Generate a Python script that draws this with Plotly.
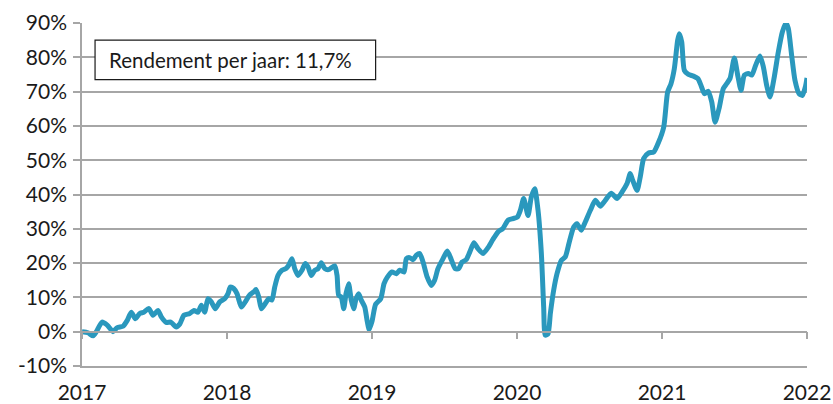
import plotly.graph_objects as go

# time in years since start of 2017, cumulative return in %
t = [0.000, 0.041, 0.076, 0.099, 0.138, 0.174, 0.214, 0.243, 0.283, 0.312, 0.340, 0.368, 0.398, 0.428,
     0.460, 0.490, 0.524, 0.547, 0.581, 0.612, 0.650, 0.674, 0.703, 0.743, 0.772, 0.800, 0.823, 0.846,
     0.869, 0.892, 0.919, 0.950, 0.984, 1.007, 1.023, 1.046, 1.069, 1.099, 1.126, 1.154, 1.184, 1.200,
     1.219, 1.237, 1.264, 1.288, 1.310, 1.329, 1.352, 1.379, 1.407, 1.426, 1.448, 1.467, 1.490, 1.517,
     1.540, 1.559, 1.581, 1.605, 1.628, 1.650, 1.674, 1.701, 1.743, 1.759, 1.770, 1.788, 1.805, 1.821,
     1.839, 1.857, 1.874, 1.890, 1.908, 1.926, 1.950, 1.966, 1.981, 2.000, 2.025, 2.060, 2.083, 2.106,
     2.138, 2.168, 2.191, 2.221, 2.237, 2.260, 2.283, 2.306, 2.329, 2.352, 2.381, 2.409, 2.432, 2.455,
     2.490, 2.519, 2.547, 2.574, 2.598, 2.621, 2.650, 2.674, 2.703, 2.731, 2.766, 2.800, 2.834, 2.869,
     2.903, 2.938, 2.972, 3.002, 3.023, 3.046, 3.076, 3.099, 3.122, 3.145, 3.168, 3.184, 3.195, 3.214,
     3.230, 3.253, 3.276, 3.306, 3.333, 3.361, 3.391, 3.414, 3.443, 3.471, 3.506, 3.540, 3.574, 3.609,
     3.650, 3.690, 3.724, 3.759, 3.781, 3.798, 3.828, 3.850, 3.874, 3.908, 3.943, 3.977, 4.012, 4.039,
     4.062, 4.085, 4.108, 4.119, 4.136, 4.154, 4.182, 4.217, 4.247, 4.269, 4.293, 4.319, 4.343, 4.366,
     4.393, 4.423, 4.446, 4.469, 4.499, 4.522, 4.545, 4.568, 4.595, 4.619, 4.646, 4.676, 4.699, 4.722,
     4.745, 4.774, 4.802, 4.830, 4.855, 4.871, 4.894, 4.917, 4.945, 4.968, 4.991, 5.000]
rendement = [0.0, -0.3, -1.2, 0.0, 2.8, 1.9, 0.0, 1.2, 1.6, 3.3, 5.7, 3.8, 5.3, 5.7,
             6.8, 4.8, 6.2, 4.3, 2.7, 2.8, 1.4, 2.2, 4.8, 5.3, 6.2, 5.7, 7.7, 5.7,
             9.6, 8.7, 6.7, 8.7, 9.6, 11.1, 13.0, 12.6, 11.1, 7.2, 8.7, 10.6, 11.6, 12.3,
             10.1, 6.7, 8.2, 9.6, 9.2, 13.0, 16.4, 17.9, 18.4, 19.4, 21.3, 18.4, 16.4, 17.9,
             19.9, 18.9, 16.4, 17.9, 18.4, 20.1, 18.4, 18.1, 19.2, 16.4, 10.6, 10.1, 6.7, 11.1,
             14.0, 9.2, 6.7, 9.6, 11.1, 9.2, 7.2, 3.3, 0.6, 3.0, 8.0, 9.6, 14.0, 15.9,
             17.4, 16.9, 17.9, 17.4, 21.3, 21.6, 21.0, 22.3, 22.8, 20.3, 15.9, 13.5, 15.0, 18.4,
             21.3, 23.5, 21.0, 18.4, 18.4, 20.3, 21.0, 23.2, 25.9, 24.2, 22.8, 24.5, 26.9, 29.1,
             30.1, 32.5, 33.0, 33.4, 35.4, 38.8, 33.9, 39.3, 41.7, 35.4, 22.8, 7.2, -1.0, -0.6,
             5.3, 12.1, 16.9, 20.8, 21.8, 26.2, 30.5, 31.5, 29.6, 32.0, 35.4, 38.3, 36.6, 38.3,
             40.4, 38.8, 40.7, 43.2, 46.1, 44.1, 41.2, 45.1, 50.5, 52.1, 52.4, 55.3, 59.7, 69.9,
             72.3, 76.7, 85.0, 86.9, 84.5, 76.2, 75.0, 74.5, 73.8, 71.8, 69.4, 70.1, 67.0, 61.1,
             65.0, 70.9, 72.3, 73.8, 79.8, 74.8, 70.4, 74.8, 75.3, 74.8, 77.7, 80.4, 77.2, 71.8,
             68.4, 74.2, 81.5, 87.4, 90.0, 88.4, 80.6, 73.3, 69.4, 68.9, 71.8, 74.0]

start_year = 2017
year_labels = ["2017", "2018", "2019", "2020", "2021", "2022"]
y_ticks = [-10, 0, 10, 20, 30, 40, 50, 60, 70, 80, 90]
y_labels = ["-10%", "0%", "10%", "20%", "30%", "40%", "50%", "60%", "70%", "80%", "90%"]
note = "Rendement per jaar: 11,7%"

x_vals = [start_year + v for v in t]
year_vals = [int(y) for y in year_labels]

GRID = "#A6A6A6"
FONT = "Lato"
TXT = "#1a1a1a"

fig = go.Figure()
fig.add_trace(go.Scatter(
    x=x_vals, y=rendement, mode="lines",
    line=dict(color="#2A98BD", width=5, shape="spline", smoothing=0.6),
    hoverinfo="skip", showlegend=False,
))
# invisible trace on secondary x axis so it is drawn
fig.add_trace(go.Scatter(x=[year_vals[0]], y=[0], xaxis="x2", mode="markers",
                         marker=dict(opacity=0), showlegend=False, hoverinfo="skip"))

fig.update_layout(
    width=833, height=404,
    margin=dict(l=82, r=26, t=23, b=38, autoexpand=False),
    paper_bgcolor="white", plot_bgcolor="white",
    font=dict(family=FONT, color=TXT),
    xaxis=dict(
        range=[year_vals[0], year_vals[-1]],
        tickvals=year_vals, ticktext=year_labels,
        showgrid=False, zeroline=False, automargin=False,
        showline=True, linecolor=GRID, linewidth=1.5,
        ticks="", tickfont=dict(size=21, family=FONT, color=TXT),
        ticklabelstandoff=7,
    ),
    xaxis2=dict(
        range=[year_vals[0], year_vals[-1]], overlaying="x", anchor="free", position=0.1,
        tickvals=year_vals, showticklabels=False, automargin=False,
        showgrid=False, zeroline=False,
        showline=True, linecolor=GRID, linewidth=1.5,
        ticks="outside", ticklen=7, tickwidth=1.5, tickcolor=GRID,
    ),
    yaxis=dict(
        range=[-10, 90], tickvals=y_ticks, ticktext=y_labels,
        showgrid=True, gridcolor=GRID, gridwidth=1.5,
        zeroline=False, automargin=False,
        showline=True, linecolor=GRID, linewidth=1.5,
        ticks="outside", ticklen=7, tickwidth=1.5, tickcolor=GRID,
        tickfont=dict(size=21, family=FONT, color=TXT),
        ticklabelstandoff=2,
    ),
)

fig.add_shape(type="rect", xref="paper", yref="paper",
              x0=0.018, x1=0.405, y0=0.835, y1=0.950,
              line=dict(color=TXT, width=1.2), fillcolor="white", layer="above")
fig.add_annotation(xref="paper", yref="paper", x=0.0345, y=0.891,
                   xanchor="left", yanchor="middle", showarrow=False,
                   text=note, font=dict(size=20.5, family=FONT, color=TXT))

fig.write_html("out.html", config={"displayModeBar": False},
               post_script="document.body.style.margin='0';document.body.style.overflow='hidden';")
